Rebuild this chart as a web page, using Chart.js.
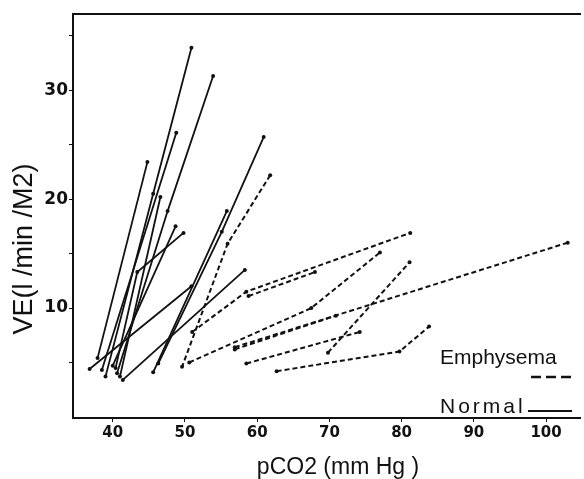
<!DOCTYPE html>
<html>
<head>
<meta charset="utf-8">
<script src="https://cdn.jsdelivr.net/npm/chart.js"></script>
<style>
  html, body { margin: 0; padding: 0; background: #fff; }
</style>
</head>
<body>
<canvas id="myChart" width="584" height="479"></canvas>
<script>
// one row per subject: pCO2 (mm Hg) and VE (l/min/M2) at each step
const normalPco2 = [
    [39.0, 45.6, 50.9],
    [40.6, 47.6, 53.9],
    [38.5, 48.8],
    [37.9, 44.8],
    [46.3, 55.1, 60.9],
    [41.0, 46.6],
    [40.0, 48.7],
    [36.8, 50.9],
    [41.4, 58.3],
    [45.6, 55.8],
    [40.4, 43.4, 49.8]
];
const normalVe = [
    [3.7, 20.5, 33.9],
    [4.0, 18.9, 31.3],
    [4.3, 26.1],
    [5.4, 23.4],
    [4.9, 17.0, 25.7],
    [3.7, 20.2],
    [4.7, 17.5],
    [4.4, 12.0],
    [3.4, 13.5],
    [4.1, 18.9],
    [4.5, 13.3, 16.9]
];
const emphysemaPco2 = [
    [61.8, 55.9, 49.6],
    [51.0, 58.5, 81.2],
    [50.6, 67.5, 77.0],
    [56.9, 103.0],
    [58.8, 68.0],
    [69.8, 81.1],
    [56.9, 70.9],
    [58.5, 74.2],
    [62.7, 79.7, 83.8]
];
const emphysemaVe = [
    [22.2, 15.9, 4.6],
    [7.8, 11.5, 16.9],
    [5.0, 10.0, 15.1],
    [6.4, 16.0],
    [11.1, 13.3],
    [5.9, 14.2],
    [6.2, 9.3],
    [4.9, 7.8],
    [4.2, 6.0, 8.3]
];
const xTicks = [40, 50, 60, 70, 80, 90, 100];
const yTicks = [5, 10, 15, 20, 25, 30, 35];
const yTickLabels = [10, 20, 30];

const ink = '#111';

function makeSets(xs, ys, dashed) {
    return xs.map((row, i) => ({
        data: row.map((x, j) => ({ x: x, y: ys[i][j] })),
        showLine: true,
        borderColor: ink,
        backgroundColor: ink,
        borderWidth: dashed ? 2 : 1.8,
        borderDash: dashed ? [5, 3] : [],
        pointRadius: 2,
        pointBorderWidth: 0,
        tension: 0
    }));
}

// axis titles and the little legend drawn in place
const annotations = {
    id: 'annotations',
    afterDraw(chart) {
        const ctx = chart.ctx;
        ctx.save();
        ctx.fillStyle = ink;
        ctx.strokeStyle = ink;
        ctx.textBaseline = 'alphabetic';

        ctx.font = '23px "Liberation Sans"';
        ctx.textAlign = 'center';
        ctx.fillText('pCO2 (mm Hg )', 338, 474);

        ctx.save();
        ctx.translate(32, 249);
        ctx.rotate(-Math.PI / 2);
        ctx.font = '27px "Liberation Sans"';
        ctx.fillText('VE(l /min /M2)', 0, 0);
        ctx.restore();

        ctx.font = '21px "Liberation Sans"';
        ctx.textAlign = 'left';
        ctx.fillText('Emphysema', 440, 364);
        ctx.letterSpacing = '3px';
        ctx.fillText('Normal', 440, 413);
        ctx.letterSpacing = '0px';

        ctx.lineWidth = 2.5;
        ctx.setLineDash([10, 5]);
        ctx.beginPath();
        ctx.moveTo(531, 377);
        ctx.lineTo(572, 377);
        ctx.stroke();

        ctx.lineWidth = 2;
        ctx.setLineDash([]);
        ctx.beginPath();
        ctx.moveTo(528, 411);
        ctx.lineTo(572, 411);
        ctx.stroke();
        ctx.restore();
    }
};

const ctx = document.getElementById('myChart').getContext('2d');
const myChart = new Chart(ctx, {
    type: 'scatter',
    data: {
        datasets: makeSets(normalPco2, normalVe, false).concat(makeSets(emphysemaPco2, emphysemaVe, true))
    },
    options: {
        responsive: false,
        animation: false,
        devicePixelRatio: 1,
        layout: { padding: { top: 14, right: 0, bottom: 0, left: 0 } },
        plugins: {
            legend: { display: false },
            tooltip: { enabled: false }
        },
        scales: {
            x: {
                type: 'linear',
                position: 'bottom',
                min: 34.5,
                max: 104.7,
                afterBuildTicks: (scale) => { scale.ticks = xTicks.map(v => ({ value: v })); },
                afterFit: (scale) => { scale.height = 61; },
                ticks: {
                    color: ink,
                    font: { family: 'DejaVu Sans', size: 15, weight: 'bold' },
                    padding: 2
                },
                grid: { drawOnChartArea: false, color: ink, tickLength: 4 },
                border: { color: ink, width: 2 }
            },
            xTop: {
                type: 'linear',
                position: 'top',
                min: 34.5,
                max: 104.7,
                ticks: { display: false },
                grid: { drawOnChartArea: false, drawTicks: false },
                border: { color: ink, width: 2 },
                afterFit: (scale) => { scale.height = 0; }
            },
            y: {
                type: 'linear',
                min: -0.1,
                max: 37,
                afterBuildTicks: (scale) => { scale.ticks = yTicks.map(v => ({ value: v })); },
                afterFit: (scale) => { scale.width = 73; },
                ticks: {
                    color: ink,
                    font: { family: 'DejaVu Sans', size: 17, weight: 'bold' },
                    padding: 1,
                    callback: (v) => yTickLabels.includes(v) ? String(v) : ''
                },
                grid: { drawOnChartArea: false, color: ink, tickLength: 4 },
                border: { color: ink, width: 2 }
            }
        }
    },
    plugins: [annotations]
});
</script>
</body>
</html>
